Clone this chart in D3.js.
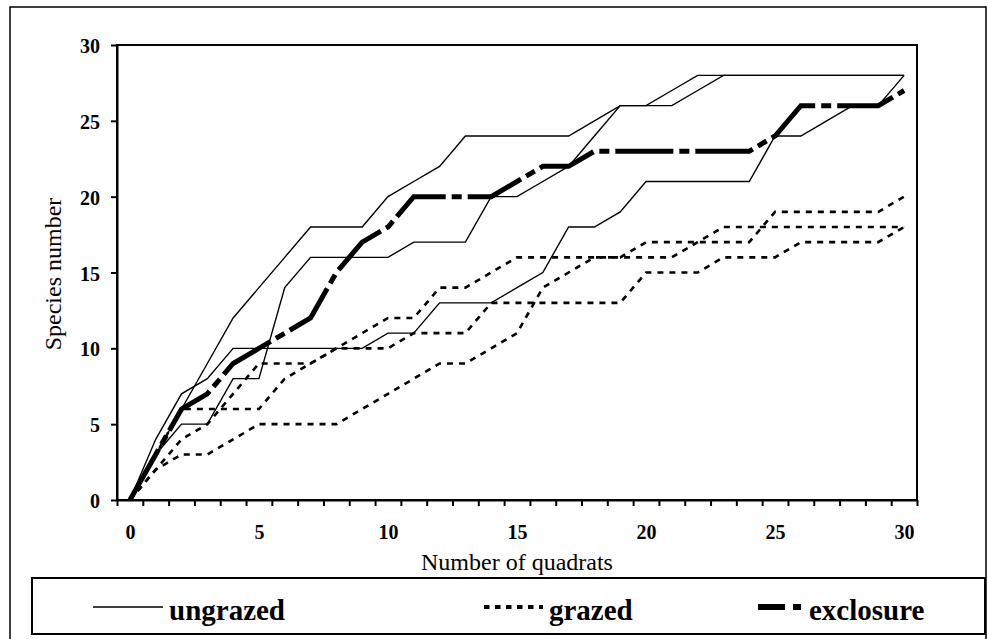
<!DOCTYPE html>
<html>
<head>
<meta charset="utf-8">
<script src="https://cdn.jsdelivr.net/npm/d3@7"></script>
<style>
  html, body { margin: 0; padding: 0; background: #fff; }
  svg { display: block; font-family: "Liberation Serif", "Times New Roman", serif; }
</style>
</head>
<body>
<svg id="chart" width="988" height="639"></svg>
<script>
// quadrat index 0..30
const quadrats = d3.range(0, 31);
const xTickLabels = [0, 5, 10, 15, 20, 25, 30];
const yTickLabels = [0, 5, 10, 15, 20, 25, 30];

// ungrazed (thin solid)
const ungrazed1 = [0, 3, 6, 9, 12, 14, 16, 18, 18, 18, 20, 21, 22, 24, 24, 24, 24, 24, 25, 26, 26, 27, 28, 28, 28, 28, 28, 28, 28, 28, 28];
const ungrazed2 = [0, 3, 5, 5, 8, 8, 14, 16, 16, 16, 16, 17, 17, 17, 20, 20, 21, 22, 24, 26, 26, 26, 27, 28, 28, 28, 28, 28, 28, 28, 28];
const ungrazed3 = [0, 4, 7, 8, 10, 10, 10, 10, 10, 10, 11, 11, 13, 13, 13, 14, 15, 18, 18, 19, 21, 21, 21, 21, 21, 24, 24, 25, 26, 26, 28];

// grazed (dotted)
const grazed1 = [0, 3, 6, 6, 6, 6, 8, 9, 10, 11, 12, 12, 14, 14, 15, 16, 16, 16, 16, 16, 16, 16, 17, 18, 18, 18, 18, 18, 18, 18, 18];
const grazed2 = [0, 2, 4, 5, 7, 9, 9, 9, 10, 10, 10, 11, 11, 11, 13, 13, 13, 13, 13, 13, 15, 15, 15, 16, 16, 16, 17, 17, 17, 17, 18];
const grazed3 = [0, 2, 3, 3, 4, 5, 5, 5, 5, 6, 7, 8, 9, 9, 10, 11, 14, 15, 16, 16, 17, 17, 17, 17, 17, 19, 19, 19, 19, 19, 20];

// exclosure (thick dashed)
const exclosure = [0, 3, 6, 7, 9, 10, 11, 12, 15, 17, 18, 20, 20, 20, 20, 21, 22, 22, 23, 23, 23, 23, 23, 23, 23, 24, 26, 26, 26, 26, 27];

const legendLabels = ["ungrazed", "grazed", "exclosure"];

const svg = d3.select("#chart");

// plot area
const plotLeft = 117, plotRight = 917, plotTop = 45, plotBottom = 500;

// category axis: points sit in the middle of each category slot
const x = d3.scaleLinear().domain([-0.5, 30.5]).range([plotLeft, plotRight]);
const y = d3.scaleLinear().domain([0, 30]).range([plotBottom, plotTop]);

// outer frame
svg.append("rect")
    .attr("x", 10).attr("y", 7)
    .attr("width", 976).attr("height", 640)
    .attr("fill", "none").attr("stroke", "#000").attr("stroke-width", 1.5);

// plot border
svg.append("rect")
    .attr("x", plotLeft).attr("y", plotTop)
    .attr("width", plotRight - plotLeft).attr("height", plotBottom - plotTop)
    .attr("fill", "none").attr("stroke", "#000").attr("stroke-width", 2);

// y axis
const yAxis = svg.append("g")
    .attr("transform", `translate(${plotLeft},0)`)
    .call(d3.axisLeft(y).tickValues(yTickLabels).tickSize(6).tickSizeOuter(0).tickPadding(11));
yAxis.select(".domain").attr("stroke-width", 2);
yAxis.selectAll(".tick line").attr("stroke-width", 2);
yAxis.selectAll(".tick text")
    .attr("font-family", "Liberation Serif")
    .attr("font-size", 20).attr("font-weight", "bold").attr("fill", "#000")
    .attr("dy", "0.38em");

// x axis ticks between categories
const xAxis = svg.append("g")
    .attr("transform", `translate(0,${plotBottom})`)
    .call(d3.axisBottom(x).tickValues(d3.range(-0.5, 31, 1)).tickFormat("").tickSize(6).tickSizeOuter(0));
xAxis.select(".domain").attr("stroke-width", 2);
xAxis.selectAll(".tick line").attr("stroke-width", 2);

// x labels every 5 quadrats
const xLabels = svg.append("g")
    .attr("transform", `translate(0,${plotBottom})`)
    .call(d3.axisBottom(x).tickValues(xTickLabels).tickSize(0).tickPadding(25));
xLabels.select(".domain").remove();
xLabels.selectAll(".tick text")
    .attr("font-family", "Liberation Serif")
    .attr("font-size", 20).attr("font-weight", "bold").attr("fill", "#000");

// axis titles
svg.append("text")
    .attr("x", (plotLeft + plotRight) / 2).attr("y", 570)
    .attr("text-anchor", "middle")
    .attr("font-size", 24)
    .text("Number of quadrats");

svg.append("text")
    .attr("transform", "translate(61,274) rotate(-90)")
    .attr("text-anchor", "middle")
    .attr("font-size", 24)
    .text("Species number");

// series
const styles = {
    ungrazed: { width: 1.4, dash: null },
    grazed: { width: 2.6, dash: "6,6" },
    exclosure: { width: 5, dash: "58,6,10,6" }
};

const series = [
    { kind: "ungrazed", values: ungrazed1 },
    { kind: "ungrazed", values: ungrazed2 },
    { kind: "ungrazed", values: ungrazed3 },
    { kind: "grazed", values: grazed1 },
    { kind: "grazed", values: grazed2 },
    { kind: "grazed", values: grazed3 },
    { kind: "exclosure", values: exclosure }
];

const line = d3.line()
    .x(d => x(d[0]))
    .y(d => y(d[1]));

svg.append("g").selectAll("path")
    .data(series)
    .join("path")
    .attr("d", s => line(quadrats.map((q, i) => [q, s.values[i]])))
    .attr("fill", "none")
    .attr("stroke", "#000")
    .attr("stroke-width", s => styles[s.kind].width)
    .attr("stroke-dasharray", s => styles[s.kind].dash);

// legend
svg.append("rect")
    .attr("x", 32).attr("y", 578)
    .attr("width", 953).attr("height", 56)
    .attr("fill", "#fff").attr("stroke", "#000").attr("stroke-width", 2);

const legendItems = [
    { label: legendLabels[0], x0: 93, x1: 163, width: 1.4, dash: null },
    { label: legendLabels[1], x0: 484, x1: 543, width: 4, dash: "5.5,5.5" },
    { label: legendLabels[2], x0: 758, x1: 803, width: 6, dash: "27,8,8,8" }
];

const lg = svg.append("g").selectAll("g")
    .data(legendItems)
    .join("g");

lg.append("line")
    .attr("x1", d => d.x0).attr("x2", d => d.x1)
    .attr("y1", 607).attr("y2", 607)
    .attr("stroke", "#000")
    .attr("stroke-width", d => d.width)
    .attr("stroke-dasharray", d => d.dash);

lg.append("text")
    .attr("x", d => d.x1 + 6).attr("y", 620)
    .attr("font-size", 29).attr("font-weight", "bold")
    .text(d => d.label);
</script>
</body>
</html>
